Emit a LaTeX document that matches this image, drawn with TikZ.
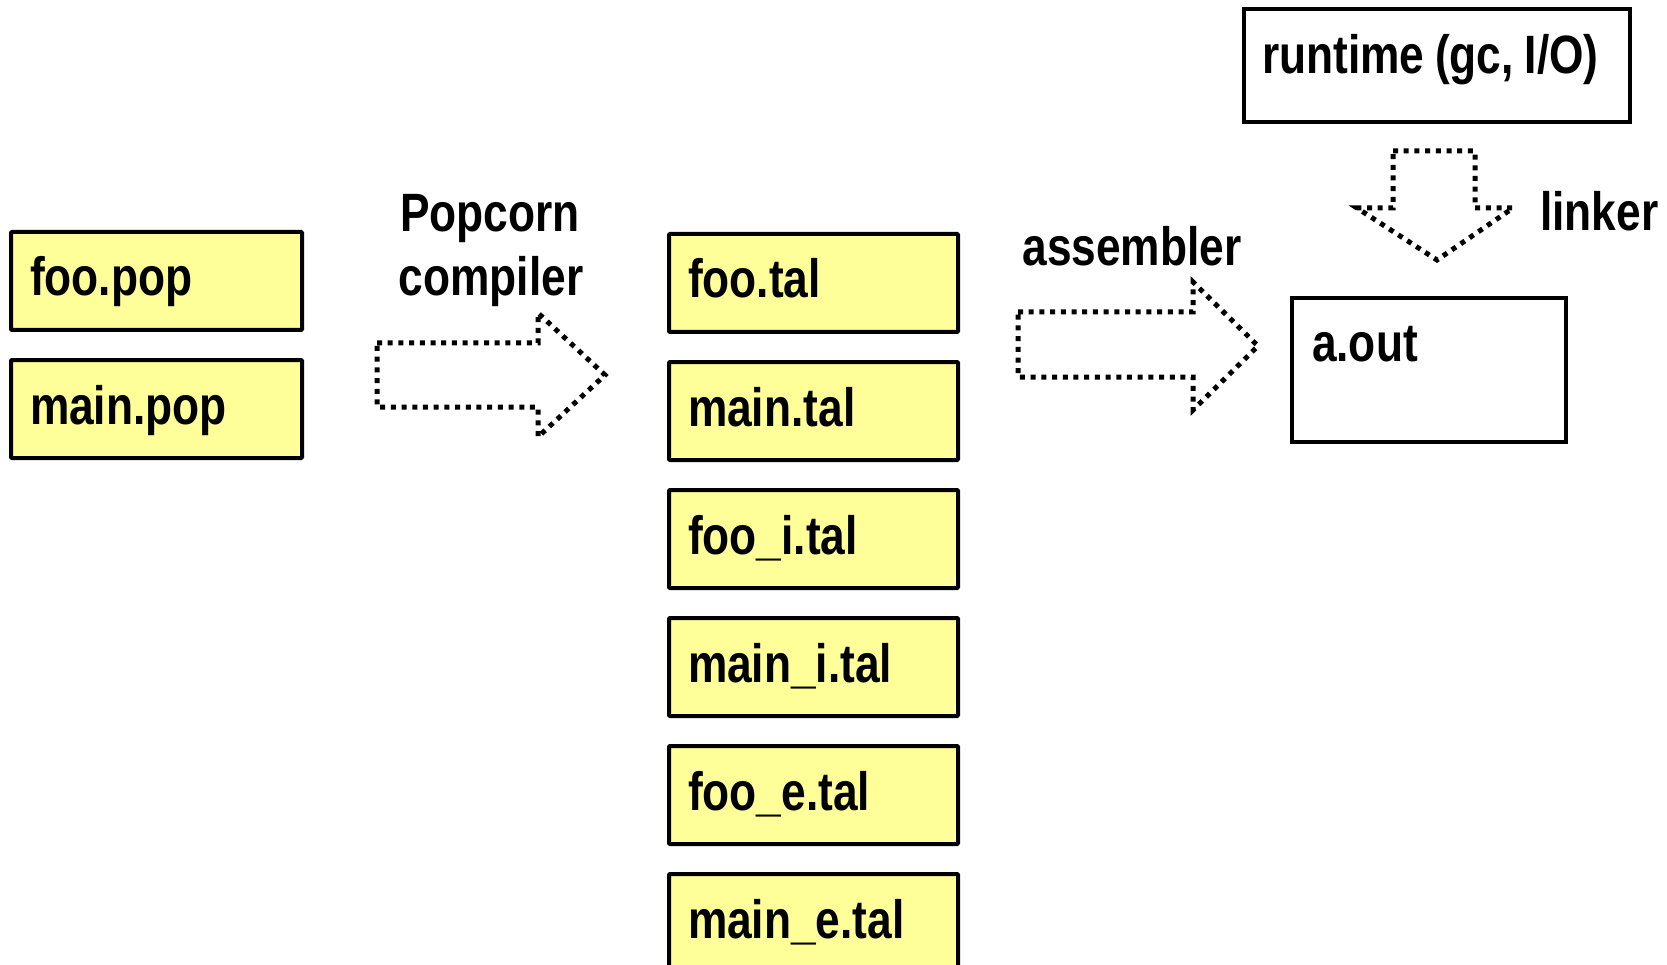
\documentclass[tikz,border=0pt]{standalone}
\usepackage{fontspec}
\setmainfont{Liberation Sans}[FakeStretch=0.82]
\definecolor{fileyellow}{HTML}{FFFF99}
\newcommand\tightwords{\spaceskip=0.2em plus 0.05em\relax}
\tikzset{
  filebox/.style={draw=black, line width=4pt, fill=fileyellow, rounded corners=1pt,
    inner xsep=19pt, inner ysep=0pt, text height=64pt, text depth=34pt,
    align=left, anchor=north west, font=\fontsize{54}{60}\selectfont\bfseries},
  whitebox/.style={draw=black, line width=4pt, fill=white,
    inner xsep=20pt, inner ysep=0pt, align=left, anchor=north west,
    font=\fontsize{54}{60}\selectfont\bfseries},
  lbl/.style={inner sep=0pt, font=\fontsize{54}{60}\selectfont\bfseries},
  blockarrow/.style={draw=black, line width=5pt, dash pattern=on 5pt off 5.7pt, line join=miter},
}
\begin{document}
\begin{tikzpicture}[x=1pt,y=-1pt]
\useasboundingbox (0,0) rectangle (1667,965);
% source files
\node[filebox, text width=253pt] (foopop) at (9,230) {foo.pop};
\node[filebox, text width=253pt] (mainpop) at (9,358) {main.pop};
% tal files
\node[filebox, text width=251pt] (footal) at (667,232) {foo.tal};
\node[filebox, text width=251pt] (maintal) at (667,360) {main.tal};
\node[filebox, text width=251pt] (fooital) at (667,488) {foo\_i.tal};
\node[filebox, text width=251pt] (mainital) at (667,616) {main\_i.tal};
\node[filebox, text width=251pt] (fooetal) at (667,744) {foo\_e.tal};
\node[filebox, text width=251pt] (mainetal) at (667,872) {main\_e.tal};
% runtime and a.out
\node[whitebox, inner xsep=18pt, text width=350pt, text height=65pt, text depth=48pt] (runtime) at (1242,7) {\tightwords\mbox{runtime (gc, I/O)}};
\node[whitebox, text width=234pt, text height=63pt, text depth=81pt] (aout) at (1290,296) {a.out};
% labels
\node[lbl, anchor=base] (popcorn) at (490,232) {Popcorn};
\node[lbl, anchor=base] (compiler) at (491,296) {compiler};
\node[lbl, anchor=base] (assembler) at (1132,266) {assembler};
\node[lbl, anchor=base west] (linker) at (1540,231) {linker};
% block arrows
\draw[blockarrow] (377,343) -- (538,343) -- (538,313) -- (605,375) -- (538,437) -- (538,407) -- (377,407) -- cycle;
\draw[blockarrow] (1018,312) -- (1193,312) -- (1193,282) -- (1258,346) -- (1193,410) -- (1193,377) -- (1018,377) -- cycle;
\draw[blockarrow] (1393,151) -- (1475,151) -- (1475,208) -- (1513,208) -- (1437,260) -- (1357,208) -- (1393,208) -- cycle;
\end{tikzpicture}
\end{document}
